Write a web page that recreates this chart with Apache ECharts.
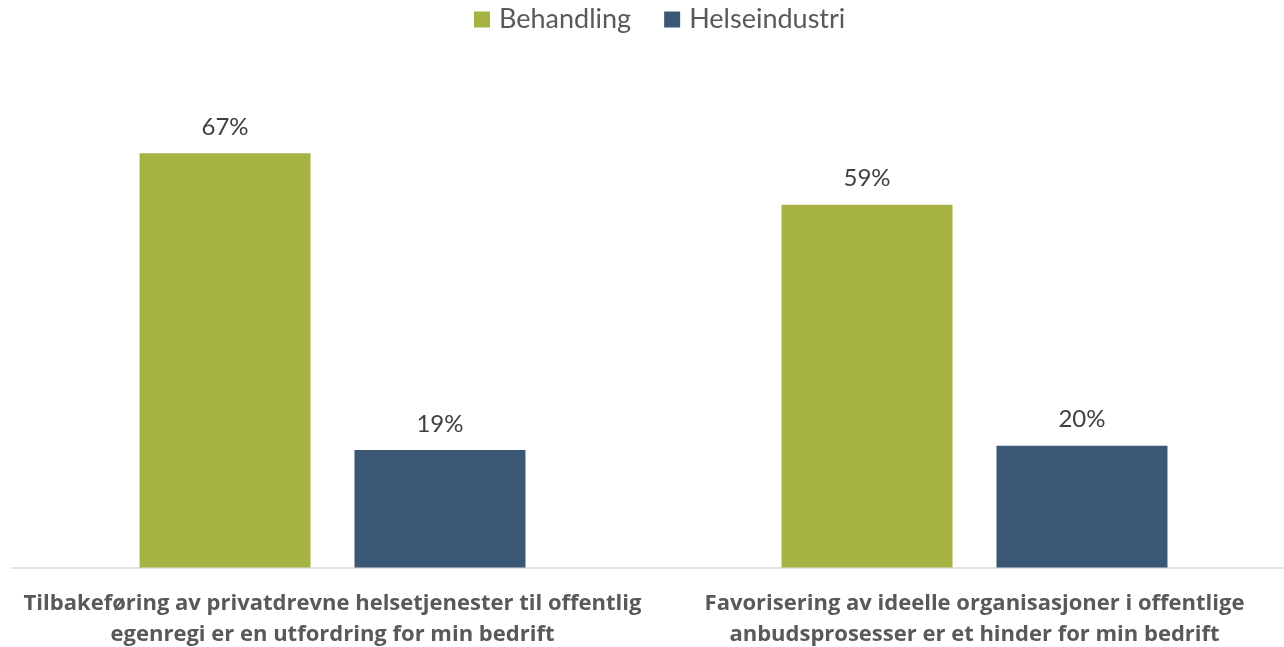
<!DOCTYPE html>
<html><head><meta charset="utf-8">
<script src="https://cdn.jsdelivr.net/npm/echarts@6/dist/echarts.min.js"></script>
<style>html,body{margin:0;padding:0;background:#fff}#c{width:1284px;height:647px}</style>
</head><body><div id="c"></div>
<script>
const categories = [
  "Tilbakeføring av privatdrevne helsetjenester til offentlig\negenregi er en utfordring for min bedrift",
  "Favorisering av ideelle organisasjoner i offentlige\nanbudsprosesser er et hinder for min bedrift"
];
const seriesNames = ["Behandling", "Helseindustri"];
const behandling = [67, 58.7];
const helseindustri = [19, 19.7];
const colors = ["#A6B342", "#3A5775"];

const chart = echarts.init(document.getElementById('c'), null, {renderer: 'canvas'});
const font = "Lato, 'Open Sans', sans-serif";
const boldFont = "'Open Sans', 'Noto Sans', sans-serif";
const mk = (name, data, color) => ({
  name, type: 'bar', data, barWidth: 171, barGap: '25.7%',
  itemStyle: {color},
  label: {show: true, position: 'top', distance: 14, color: '#404040', fontSize: 24, fontFamily: font,
    formatter: p => Math.round(p.value) + '%'}
});
chart.setOption({
  animation: false,
  color: colors,
  legend: {top: 6, left: 474, padding: 0, icon: 'rect', itemWidth: 16, itemHeight: 16, itemGap: 33,
    textStyle: {fontSize: 27, color: '#595959', fontFamily: font, padding: [0, 0, 0, 4]},
    data: seriesNames},
  grid: {left: 11.5, right: -11.5, top: 73, bottom: 79.5, containLabel: false, outerBoundsMode: 'none'},
  xAxis: {type: 'category', data: categories,
    axisLine: {lineStyle: {color: '#D9D9D9', width: 1.5}}, axisTick: {show: false},
    axisLabel: {interval: 0, margin: 21, color: '#595959', fontWeight: 'bold', fontSize: 22, lineHeight: 31, fontFamily: boldFont, align: 'center'}},
  yAxis: {type: 'value', min: 0, max: 80, show: false, splitLine: {show: false}},
  series: [mk(seriesNames[0], behandling, colors[0]), mk(seriesNames[1], helseindustri, colors[1])]
});
</script></body></html>
